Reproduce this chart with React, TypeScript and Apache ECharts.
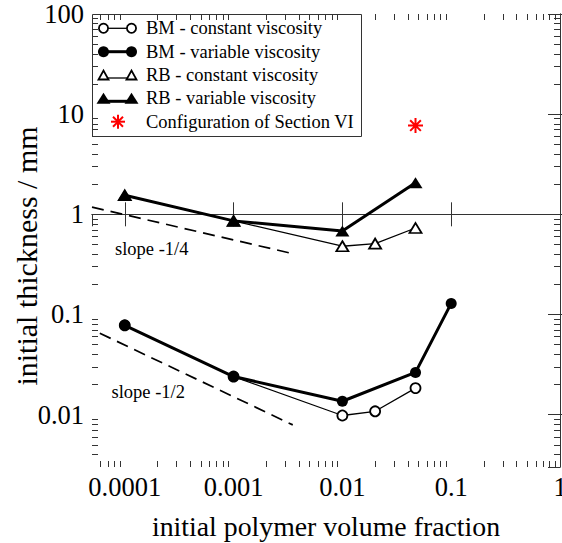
import React, { useEffect, useRef } from "react";
import * as echarts from "echarts";

// ---- axis ranges and ticks ----
const X_MIN = 5e-5;
const X_MAX = 1;
const Y_MIN = 0.003;
const Y_MAX = 100;
const xTickValues = [0.0001, 0.001, 0.01, 0.1, 1];
const xTickLabels = ["0.0001", "0.001", "0.01", "0.1", "1"];
const yTickValues = [0.01, 0.1, 1, 10, 100];
const yTickLabels = ["0.01", "0.1", "1", "10", "100"];
const minorMultipliers = [2, 3, 4, 5, 6, 7, 8, 9];
const xDecades = [1e-5, 1e-4, 1e-3, 1e-2, 1e-1];
const yDecades = [1e-3, 1e-2, 1e-1, 1, 10];

// ---- data ----
const phiBMconst = [0.0001, 0.001, 0.01, 0.02, 0.047];
const bmConstant = [0.078, 0.024, 0.0098, 0.0108, 0.0184];
const phiBMvar = [0.0001, 0.001, 0.01, 0.047, 0.1];
const bmVariable = [0.078, 0.024, 0.0136, 0.0264, 0.129];
const phiRBconst = [0.0001, 0.001, 0.01, 0.02, 0.047];
const rbConstant = [1.55, 0.86, 0.48, 0.51, 0.73];
const phiRBvar = [0.0001, 0.001, 0.01, 0.047];
const rbVariable = [1.55, 0.86, 0.68, 2.07];
const phiSectionVI = [0.047];
const sectionVI = [7.7];
const slopeQuarterX = [5e-5, 0.0035];
const slopeQuarterY = [1.18, 0.405];
const slopeHalfX = [5.9e-5, 0.0035];
const slopeHalfY = [0.065, 0.0079];

const legendNames = [
  "BM - constant viscosity",
  "BM - variable viscosity",
  "RB - constant viscosity",
  "RB - variable viscosity",
  "Configuration of Section VI",
];

const FONT = '"Liberation Serif", "Times New Roman", serif';
const AXIS_COLOR = "#333";

const zip = (xs: number[], ys: number[]) => xs.map((x, i) => [x, ys[i]]);

export default function App() {
  const ref = useRef<HTMLDivElement>(null);

  useEffect(() => {
    document.body.style.margin = "0";
    if (!ref.current) return;
    const chart = echarts.init(ref.current, undefined, { renderer: "svg" });

    const xMinorVals: number[] = [];
    xDecades.forEach((d) =>
      minorMultipliers.forEach((m) => {
        const v = d * m;
        if (v > X_MIN * 1.01 && v < X_MAX) xMinorVals.push(v);
      })
    );
    const yMinorVals: number[] = [];
    yDecades.forEach((d) =>
      minorMultipliers.forEach((m) => {
        const v = d * m;
        if (v > Y_MIN * 1.01 && v < Y_MAX) yMinorVals.push(v);
      })
    );

    const fmtX = (v: number) => {
      const i = xTickValues.findIndex((t) => Math.abs(Math.log10(t) - Math.log10(v)) < 1e-6);
      return i >= 0 ? xTickLabels[i] : "";
    };
    const fmtY = (v: number) => {
      const i = yTickValues.findIndex((t) => Math.abs(Math.log10(t) - Math.log10(v)) < 1e-6);
      return i >= 0 ? yTickLabels[i] : "";
    };

    const asterisk = "path://M7,0L7,14M0,7L14,7M2,2L12,12M2,12L12,2";

    const openStyle = { color: "#fff", borderColor: "#000", borderWidth: 1.8 };
    const filledStyle = { color: "#000", borderColor: "#000", borderWidth: 0 };

    // legend drawn with graphic elements
    const rowY = [28.3, 51.7, 75, 98.3, 121.7];
    const lx1 = 103.5;
    const lx2 = 131.5;
    const tri = (cx: number, cy: number, w: number, h: number) => [
      [cx - w / 2, cy + h / 2],
      [cx + w / 2, cy + h / 2],
      [cx, cy - h / 2],
    ];
    const legendChildren: any[] = [
      {
        type: "rect",
        shape: { x: 92.5, y: 14.5, width: 269, height: 122 },
        style: { fill: "#fff", stroke: AXIS_COLOR, lineWidth: 1 },
      },
    ];
    legendChildren.push(
      { type: "line", shape: { x1: lx1, y1: rowY[0], x2: lx2, y2: rowY[0] }, style: { stroke: "#000", lineWidth: 1.3 } },
      { type: "circle", shape: { cx: lx1, cy: rowY[0], r: 4.6 }, style: { fill: "#fff", stroke: "#000", lineWidth: 1.8 } },
      { type: "circle", shape: { cx: lx2, cy: rowY[0], r: 4.6 }, style: { fill: "#fff", stroke: "#000", lineWidth: 1.8 } }
    );
    legendChildren.push(
      { type: "line", shape: { x1: lx1, y1: rowY[1], x2: lx2, y2: rowY[1] }, style: { stroke: "#000", lineWidth: 3 } },
      { type: "circle", shape: { cx: lx1, cy: rowY[1], r: 5.5 }, style: { fill: "#000" } },
      { type: "circle", shape: { cx: lx2, cy: rowY[1], r: 5.5 }, style: { fill: "#000" } }
    );
    legendChildren.push(
      { type: "line", shape: { x1: lx1, y1: rowY[2] + 3, x2: lx2, y2: rowY[2] + 3 }, style: { stroke: "#000", lineWidth: 1.3 } },
      { type: "polygon", shape: { points: tri(lx1, rowY[2], 10, 9) }, style: { fill: "#fff", stroke: "#000", lineWidth: 1.8 } },
      { type: "polygon", shape: { points: tri(lx2, rowY[2], 10, 9) }, style: { fill: "#fff", stroke: "#000", lineWidth: 1.8 } }
    );
    legendChildren.push(
      { type: "line", shape: { x1: lx1, y1: rowY[3] + 3, x2: lx2, y2: rowY[3] + 3 }, style: { stroke: "#000", lineWidth: 3 } },
      { type: "polygon", shape: { points: tri(lx1, rowY[3], 14, 11) }, style: { fill: "#000" } },
      { type: "polygon", shape: { points: tri(lx2, rowY[3], 14, 11) }, style: { fill: "#000" } }
    );
    const ax = 118;
    const ay = rowY[4];
    const ar = 7;
    const ad = 5;
    legendChildren.push(
      { type: "line", shape: { x1: ax, y1: ay - ar, x2: ax, y2: ay + ar }, style: { stroke: "#ff0000", lineWidth: 2 } },
      { type: "line", shape: { x1: ax - ar, y1: ay, x2: ax + ar, y2: ay }, style: { stroke: "#ff0000", lineWidth: 2 } },
      { type: "line", shape: { x1: ax - ad, y1: ay - ad, x2: ax + ad, y2: ay + ad }, style: { stroke: "#ff0000", lineWidth: 2 } },
      { type: "line", shape: { x1: ax - ad, y1: ay + ad, x2: ax + ad, y2: ay - ad }, style: { stroke: "#ff0000", lineWidth: 2 } }
    );
    legendNames.forEach((name, i) => {
      legendChildren.push({
        type: "text",
        x: 146,
        y: rowY[i],
        style: {
          text: name,
          fill: "#000",
          fontSize: 18.5,
          fontFamily: FONT,
          align: "left",
          verticalAlign: "middle",
        },
      });
    });

    const baseX = {
      type: "log",
      min: X_MIN,
      max: X_MAX,
      splitLine: { show: false },
      axisLine: { show: true, lineStyle: { color: AXIS_COLOR, width: 1 } },
      axisTick: { show: true, inside: true, length: 12, lineStyle: { color: AXIS_COLOR, width: 1 } },
    };
    const baseY = {
      type: "log",
      min: Y_MIN,
      max: Y_MAX,
      splitLine: { show: false },
      axisLine: { show: true, lineStyle: { color: AXIS_COLOR, width: 1 } },
      axisTick: { show: true, inside: true, length: 12, lineStyle: { color: AXIS_COLOR, width: 1 } },
    };
    // minor-tick axes: value axes over log10 space, ticks at the 2..9 multiples
    const minorX = (position: string) => ({
      type: "value",
      position,
      min: Math.log10(X_MIN),
      max: Math.log10(X_MAX),
      splitLine: { show: false },
      axisLine: { show: false },
      axisLabel: { show: false },
      axisTick: {
        show: true,
        inside: true,
        length: 6,
        customValues: xMinorVals.map((v) => Math.log10(v)),
        lineStyle: { color: AXIS_COLOR, width: 1 },
      },
    });
    const minorY = (position: string) => ({
      type: "value",
      position,
      min: Math.log10(Y_MIN),
      max: Math.log10(Y_MAX),
      splitLine: { show: false },
      axisLine: { show: false },
      axisLabel: { show: false },
      axisTick: {
        show: true,
        inside: true,
        length: 6,
        customValues: yMinorVals.map((v) => Math.log10(v)),
        lineStyle: { color: AXIS_COLOR, width: 1 },
      },
    });

    chart.setOption({
      animation: false,
      grid: { left: 92, right: 2, top: 14, bottom: 76, containLabel: false, outerBoundsMode: "none" },
      xAxis: [
        {
          ...baseX,
          position: "bottom",
          name: "initial polymer volume fraction",
          nameLocation: "middle",
          nameGap: 45,
          nameMoveOverlap: false,
          nameTextStyle: { fontSize: 27.8, fontFamily: FONT, color: "#000" },
          axisLabel: {
            show: true,
            margin: 6,
            fontSize: 26.5,
            fontFamily: FONT,
            color: "#000",
            showMinLabel: false,
            showMaxLabel: true,
            formatter: fmtX,
          },
        },
        { ...baseX, position: "top", axisLabel: { show: false } },
        minorX("bottom"),
        minorX("top"),
      ],
      yAxis: [
        {
          ...baseY,
          position: "left",
          name: "initial thickness / mm",
          nameLocation: "middle",
          nameGap: 51,
          nameMoveOverlap: false,
          nameTextStyle: { fontSize: 30, fontFamily: FONT, color: "#000", padding: [0, 31, 0, 0] },
          axisLabel: {
            show: true,
            margin: 8,
            fontSize: 26.5,
            fontFamily: FONT,
            color: "#000",
            showMinLabel: false,
            formatter: fmtY,
          },
        },
        { ...baseY, position: "right", axisLabel: { show: false } },
        minorY("left"),
        minorY("right"),
      ],
      graphic: [
        { type: "group", z: 50, children: legendChildren },
        {
          type: "text",
          x: 115,
          y: 249,
          z: 50,
          style: { text: "slope -1/4", fill: "#000", fontSize: 18.5, fontFamily: FONT, verticalAlign: "middle" },
        },
        {
          type: "text",
          x: 111.5,
          y: 391.5,
          z: 50,
          style: { text: "slope -1/2", fill: "#000", fontSize: 18.5, fontFamily: FONT, verticalAlign: "middle" },
        },
      ],
      series: [
        {
          type: "line",
          name: "slope -1/4",
          data: zip(slopeQuarterX, slopeQuarterY),
          symbol: "none",
          lineStyle: { color: "#000", width: 1.7, type: [12, 7] },
        },
        {
          type: "line",
          name: "slope -1/2",
          data: zip(slopeHalfX, slopeHalfY),
          symbol: "none",
          lineStyle: { color: "#000", width: 1.7, type: [12, 7] },
        },
        {
          type: "line",
          name: legendNames[0],
          data: zip(phiBMconst, bmConstant),
          symbol: "circle",
          symbolSize: 10,
          showAllSymbol: true,
          lineStyle: { color: "#000", width: 1.3 },
          itemStyle: openStyle,
          z: 3,
        },
        {
          type: "line",
          name: legendNames[2],
          data: zip(phiRBconst, rbConstant),
          symbol: "triangle",
          symbolSize: [12, 10],
          showAllSymbol: true,
          lineStyle: { color: "#000", width: 1.3 },
          itemStyle: openStyle,
          z: 3,
        },
        {
          type: "line",
          name: legendNames[1],
          data: zip(phiBMvar, bmVariable),
          symbol: "circle",
          symbolSize: 11,
          showAllSymbol: true,
          lineStyle: { color: "#000", width: 3 },
          itemStyle: filledStyle,
          z: 4,
        },
        {
          type: "line",
          name: legendNames[3],
          data: zip(phiRBvar, rbVariable),
          symbol: "triangle",
          symbolSize: [14, 11],
          showAllSymbol: true,
          lineStyle: { color: "#000", width: 3 },
          itemStyle: filledStyle,
          z: 4,
        },
        {
          type: "scatter",
          name: legendNames[4],
          data: zip(phiSectionVI, sectionVI),
          symbol: asterisk,
          symbolSize: 15,
          itemStyle: { color: "none", borderColor: "#ff0000", borderWidth: 2, opacity: 1 },
          z: 5,
        },
      ],
    });

    return () => chart.dispose();
  }, []);

  return <div ref={ref} style={{ width: 562, height: 543 }} />;
}
